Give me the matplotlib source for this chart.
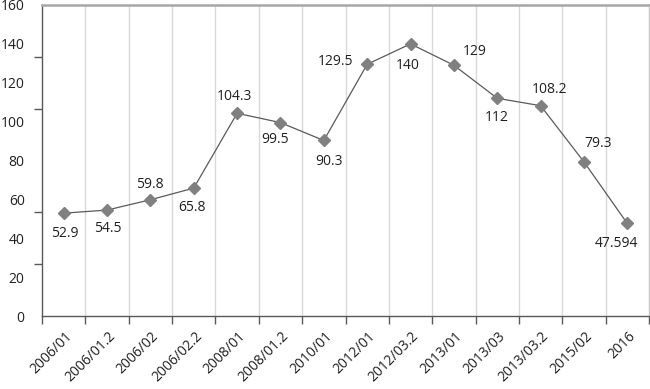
import matplotlib
matplotlib.use("Agg")
import matplotlib.pyplot as plt
from matplotlib.ticker import FixedLocator, MultipleLocator
import numpy as np

categories = ["2006/01", "2006/01.2", "2006/02", "2006/02.2", "2008/01", "2008/01.2",
              "2010/01", "2012/01", "2012/03.2", "2013/01", "2013/03", "2013/03.2",
              "2015/02", "2016"]
values = [52.9, 54.5, 59.8, 65.8, 104.3, 99.5, 90.3, 129.5, 140, 129, 112, 108.2, 79.3, 47.594]
value_labels = ["52.9", "54.5", "59.8", "65.8", "104.3", "99.5", "90.3", "129.5", "140",
                "129", "112", "108.2", "79.3", "47.594"]
# label offsets in pixels (dx, dy) relative to the marker
label_offsets = [(1, -20), (1, -18), (-1, 15), (-2, -19), (-3, 17), (-5, -17), (5, -21),
                 (-32, 3), (-3, -22), (21, 14), (-1, -19), (9, 16), (14, 18), (-11, -20)]

FONT = "Open Sans"
TXT = "#231f20"
plt.rcParams["font.family"] = [FONT, "DejaVu Sans"]

W, H = 650, 389
fig = plt.figure(figsize=(W / 100, H / 100), dpi=100)
ax = fig.add_axes([42 / W, 1 - 316 / H, (649 - 42) / W, (316 - 5) / H])

n = len(categories)
x = np.arange(n)
ax.set_xlim(-0.5, n - 0.5)
ax.set_ylim(0, 160)

# vertical gridlines at category boundaries
for b in np.arange(0.5, n - 0.5, 1.0):
    ax.axvline(b, color="#d9d9d9", lw=1.0, zorder=1)

ax.plot(x, values, color="#5a5a5a", lw=0.9, marker="D", markersize=6.6,
        markerfacecolor="#808080", markeredgecolor="#808080", zorder=3)

for xi, v, lab, (dx, dy) in zip(x, values, value_labels, label_offsets):
    ax.annotate(lab, (xi, v), xytext=(dx * 0.72, dy * 0.72), textcoords="offset points",
                ha="center", va="center", fontsize=10, color=TXT, zorder=4)

# spines
for s in ["left", "bottom"]:
    ax.spines[s].set_color("#595959")
    ax.spines[s].set_linewidth(1.0)
ax.spines["top"].set_color("#a6a6a6")
ax.spines["top"].set_linewidth(1.8)
ax.spines["right"].set_color("#c8c8c8")
ax.spines["right"].set_linewidth(1.0)

# y axis: labels every 20, tick marks at sixths
ax.yaxis.set_major_locator(MultipleLocator(20))
ax.yaxis.set_minor_locator(FixedLocator(np.linspace(0, 160, 7)[:-1]))
ax.tick_params(axis="y", which="major", length=0, pad=12.5, labelsize=10, labelcolor=TXT)
ax.tick_params(axis="y", which="minor", length=6, width=1.0, color="#595959", direction="out")

# x axis: labels at centers, tick marks at boundaries
ax.set_xticks(x + 0.02)
ax.set_xticklabels(categories)
ax.xaxis.set_minor_locator(FixedLocator(np.arange(-0.5, n, 1.0)))
ax.tick_params(axis="x", which="major", length=0, pad=9, labelsize=10, labelcolor=TXT)
ax.tick_params(axis="x", which="minor", length=6, width=1.0, color="#595959", direction="out")
for t in ax.get_xticklabels():
    t.set_rotation(45)
    t.set_ha("right")
    t.set_va("top")
    t.set_rotation_mode("anchor")

fig.savefig("out.png", dpi=100)
